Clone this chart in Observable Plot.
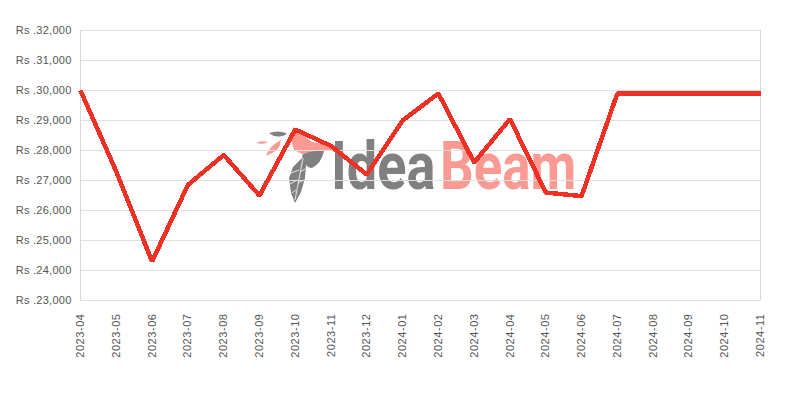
<!DOCTYPE html>
<html><head><meta charset="utf-8">
<script src="https://cdn.jsdelivr.net/npm/d3@7"></script>
<script src="https://cdn.jsdelivr.net/npm/@observablehq/plot@0.6"></script>
<style>html,body{margin:0;background:#fff}
g[aria-label="y-axis tick label"] text{letter-spacing:.25px}
g[aria-label="x-axis tick label"] text{letter-spacing:.55px}
</style></head>
<body><div id="chart"></div>
<script>
const months = ["2023-04","2023-05","2023-06","2023-07","2023-08","2023-09","2023-10","2023-11","2023-12","2024-01","2024-02","2024-03","2024-04","2024-05","2024-06","2024-07","2024-08","2024-09","2024-10","2024-11"];
const prices = [30000,27300,24300,26850,27850,26500,28700,28150,27200,29000,29900,27600,29050,26600,26480,29900,29900,29900,29900,29900];
const yTicks = [23000,24000,25000,26000,27000,28000,29000,30000,31000,32000];
const rows = months.map((m,i)=>({m,p:prices[i]}));
const fmt = v => "Rs ." + d3.format(",")(v);

const gray="#808080", pink="#fa9a92";
const logoShapes = [
 [gray,"M269 133Q278 130 286 133Q287 135 282 136Q275 138 269 133Z"],
 [pink,"M256 143Q261 140 268 142Q264 145 256 143Z"],
 [pink,"M266 156Q269 146 281 140Q280 150 272 153Z"],
 [pink,"M293 127L312 142L338 146L338 152L322 150L304 155L294 150L291 140Z"],
 [gray,"M302 155Q312 150 324 151Q321 164 312 168Q306 168 304 161Z"],
 [gray,"M303 157L306 165L305 178L301 192L295 203L291 193L289 178L293 167Z"]
];
const barbs = "M303 158L295 200M299 170L291 173M297 180L290 184M296 190L292 193M300 172L305 169M298 183L304 180";
function logo(index, scales, values, dim, ctx){
  const g = d3.create("svg:g");
  for (const [c,d] of logoShapes) g.append("path").attr("fill",c).attr("d",d);
  g.append("path").attr("d",barbs).attr("fill","none").attr("stroke","#fff").attr("stroke-width",0.8);
  const word = (s,x,sx,c) => g.append("text").attr("transform",`translate(${x},189) scale(${sx},1)`).attr("text-anchor","start")
    .attr("font-family","Roboto, sans-serif").attr("font-weight",700).attr("font-size",66)
    .attr("fill",c).text(s);
  word("Idea",331,0.82,gray);
  word("Beam",440,0.8,pink);
  return g.node();
}

const plot = Plot.plot({
  width:800, height:400,
  marginLeft:80, marginRight:40, marginTop:30, marginBottom:100,
  style:{fontFamily:"'Liberation Sans', Arial, sans-serif", fontSize:"11px", background:"#fff"},
  x:{type:"point", domain:months, padding:0, round:false, label:null},
  y:{domain:[23000,32000], label:null},
  marks:[
    logo,
    Plot.gridY(yTicks,{stroke:"#e0e0e0",strokeOpacity:1,strokeWidth:1}),
    Plot.ruleX([months[0],months[months.length-1]],{stroke:"#d8d8d8",strokeWidth:1}),
    Plot.axisY({ticks:yTicks,tickFormat:fmt,tickSize:0,tickPadding:9,color:"#555",fontSize:11,label:null}),
    Plot.axisX({ticks:months,tickSize:0,tickPadding:13,tickRotate:-90,color:"#555",fontSize:11,label:null}),
    Plot.line(rows,{x:"m",y:"p",stroke:"#ee3124",strokeWidth:4.5,strokeLinejoin:"miter",strokeLinecap:"butt",shapeRendering:"crispEdges"})
  ]
});
document.getElementById("chart").appendChild(plot);
</script></body></html>
